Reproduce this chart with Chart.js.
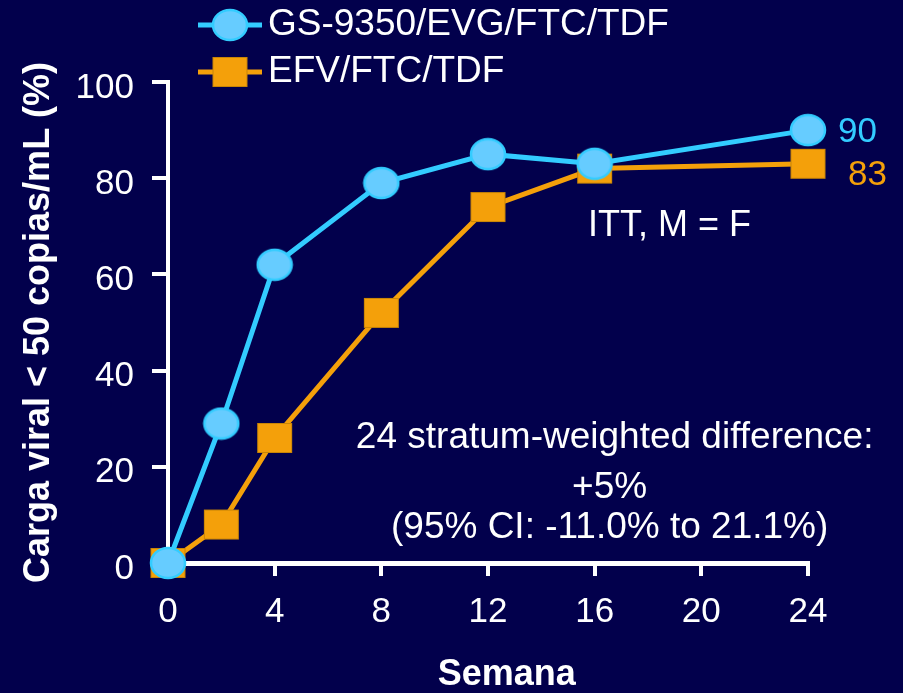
<!DOCTYPE html>
<html>
<head>
<meta charset="utf-8">
<script src="https://cdn.jsdelivr.net/npm/chart.js@4.4.1/dist/chart.umd.min.js"></script>
<style>
  html, body { margin: 0; padding: 0; background: #02004c; }
  canvas { display: block; }
</style>
</head>
<body>
<canvas id="chart" width="903" height="693"></canvas>
<script>
// weeks on treatment and % of patients with HIV RNA < 50 copies/mL
const weeks = [0, 2, 4, 8, 12, 16, 24];
const gsPct = [0, 29, 62, 79, 85, 83, 90];
const efvPct = [0, 8, 26, 52, 74, 82, 83];
const seriesNames = ['GS-9350/EVG/FTC/TDF', 'EFV/FTC/TDF'];
const xTicks = [0, 4, 8, 12, 16, 20, 24];
const yTicks = [0, 20, 40, 60, 80, 100];

const CYAN = '#33ccff';
const CYAN_FILL = '#66ccff';
const ORANGE = '#f4a00a';
const FONT = '"Liberation Sans", Arial, sans-serif';

// marker images: a slightly flattened disc and a slightly wide square
function discMarker(w, h) {
  const c = document.createElement('canvas');
  c.width = w + 4; c.height = h + 4;
  const g = c.getContext('2d');
  g.beginPath();
  g.ellipse(c.width / 2, c.height / 2, w / 2, h / 2, 0, 0, Math.PI * 2);
  g.fillStyle = CYAN_FILL; g.fill();
  g.lineWidth = 2.5; g.strokeStyle = CYAN; g.stroke();
  return c;
}
function boxMarker(w, h) {
  const c = document.createElement('canvas');
  c.width = w + 2; c.height = h + 2;
  const g = c.getContext('2d');
  g.fillStyle = ORANGE; g.fillRect(1, 1, w, h);
  g.lineWidth = 1; g.strokeStyle = '#c98506'; g.strokeRect(1.5, 1.5, w - 1, h - 1);
  return c;
}
const disc = discMarker(34, 30);
const box = boxMarker(35, 30);

function put(ctx, str, x, y, font, color, align) {
  ctx.save();
  ctx.font = font;
  ctx.fillStyle = color;
  ctx.textAlign = align || 'left';
  ctx.textBaseline = 'middle';
  ctx.fillText(str, x, y);
  ctx.restore();
}

// legend: line segment with marker, then the name
const legendPlugin = {
  id: 'lineLegend',
  afterDraw(chart) {
    const ctx = chart.ctx;
    const rows = [
      { y: 25, color: CYAN, img: disc, text: seriesNames[0] },
      { y: 72, color: ORANGE, img: box, text: seriesNames[1] },
    ];
    rows.forEach(r => {
      ctx.save();
      ctx.strokeStyle = r.color; ctx.lineWidth = 5;
      ctx.beginPath(); ctx.moveTo(198, r.y); ctx.lineTo(262, r.y); ctx.stroke();
      ctx.drawImage(r.img, 230 - r.img.width / 2, r.y - r.img.height / 2);
      ctx.restore();
      put(ctx, r.text, 268, r.y, '37px ' + FONT, '#ffffff');
    });
  }
};

// value at the last point of each line, the text notes and the x axis name
const notesPlugin = {
  id: 'notes',
  afterDatasetsDraw(chart) {
    const ctx = chart.ctx;
    const { x, y } = chart.scales;
    const ends = [
      { ds: 0, dx: 30, dy: 2, color: CYAN },
      { ds: 1, dx: 40, dy: 12, color: ORANGE },
    ];
    ends.forEach(e => {
      const pts = chart.getDatasetMeta(e.ds).data;
      const p = pts[pts.length - 1];
      const v = chart.data.datasets[e.ds].data[pts.length - 1].y;
      put(ctx, String(v), p.x + e.dx, p.y + e.dy, '35px ' + FONT, e.color);
    });

    put(ctx, 'ITT, M = F', x.getPixelForValue(15.75), y.getPixelForValue(70), '36px ' + FONT, '#ffffff');

    const cx = x.getPixelForValue(16.75);
    put(ctx, '24 stratum-weighted difference:', cx, y.getPixelForValue(26), '37px ' + FONT, '#ffffff', 'center');
    put(ctx, '+5%', cx - 5, y.getPixelForValue(15.6), '37px ' + FONT, '#ffffff', 'center');
    put(ctx, '(95% CI: -11.0% to 21.1%)', cx - 5, y.getPixelForValue(7.3), '37px ' + FONT, '#ffffff', 'center');

    put(ctx, 'Semana', x.getPixelForValue(12.7), x.bottom - 18, 'bold 36px ' + FONT, '#ffffff', 'center');
  }
};

const toPoints = vals => weeks.map((w, i) => ({ x: w, y: vals[i] }));

new Chart(document.getElementById('chart'), {
  type: 'line',
  data: {
    datasets: [
      { label: seriesNames[0], data: toPoints(gsPct), borderColor: CYAN, borderWidth: 5,
        pointStyle: disc, pointRadius: 17, pointHoverRadius: 17, tension: 0, clip: false },
      { label: seriesNames[1], data: toPoints(efvPct), borderColor: ORANGE, borderWidth: 5,
        pointStyle: box, pointRadius: 17, pointHoverRadius: 17, tension: 0, clip: false },
    ]
  },
  options: {
    responsive: false,
    animation: false,
    events: [],
    layout: { padding: { top: 82, right: 95, bottom: 0, left: 0 } },
    plugins: { legend: { display: false }, tooltip: { enabled: false } },
    scales: {
      x: {
        type: 'linear', min: 0, max: 24,
        afterBuildTicks: s => { s.ticks = xTicks.map(v => ({ value: v })); },
        afterFit: s => { s.height = 130; },
        ticks: { color: '#ffffff', font: { family: FONT, size: 35 }, padding: 15 },
        grid: { drawOnChartArea: false, color: '#ffffff', lineWidth: 4, tickLength: 13 },
        border: { color: '#ffffff', width: 5 }
      },
      y: {
        min: 0, max: 100,
        afterBuildTicks: s => { s.ticks = yTicks.map(v => ({ value: v })); },
        afterFit: s => { s.width = 168; },
        ticks: { color: '#ffffff', font: { family: FONT, size: 35 }, padding: 18, labelOffset: 6 },
        grid: { drawOnChartArea: false, color: '#ffffff', lineWidth: 4, tickLength: 16 },
        border: { color: '#ffffff', width: 4 },
        title: { display: true, text: 'Carga viral < 50 copias/mL (%)', color: '#ffffff',
                 font: { family: FONT, size: 36, weight: 'bold' }, padding: { top: 17 } }
      }
    }
  },
  plugins: [legendPlugin, notesPlugin]
});
</script>
</body>
</html>
